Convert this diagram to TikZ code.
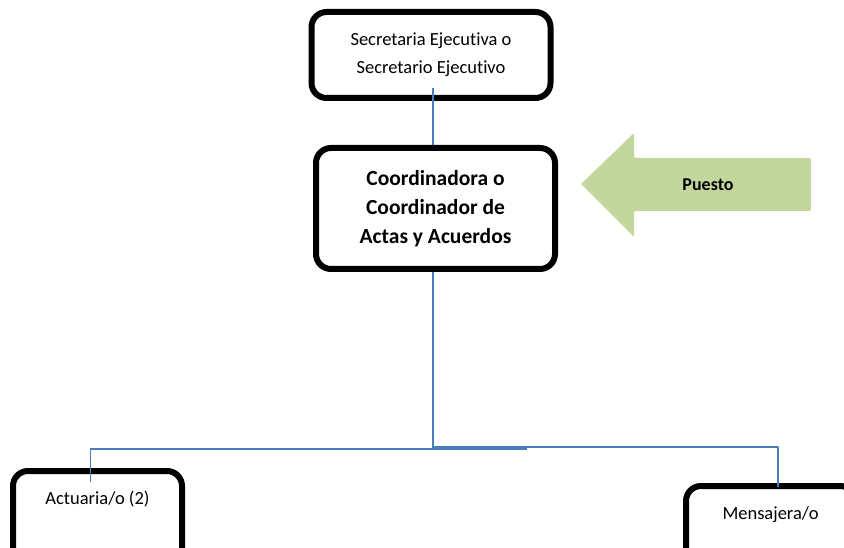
\documentclass[tikz,border=0pt]{standalone}
\usepackage{fontspec}
\setmainfont{Carlito}[Ligatures=NoCommon]
\usepackage{xcolor}
\definecolor{lineablue}{RGB}{74,126,187}
\definecolor{puestogreen}{RGB}{195,214,155}

\begin{document}
\begin{tikzpicture}
			[line cap=round,line join=round,x=1pt,y=-1pt,
			cargo/.style={draw=black,line width=6pt,rounded corners=15pt,fill=white,minimum width=239pt,align=center},
			subcargo/.style={minimum width=169pt,inner ysep=20pt,text height=13pt,text depth=70pt,font=\fontsize{18.5}{28}\selectfont},
			linea/.style={draw=lineablue,line width=1.5pt,line cap=butt}]
			\useasboundingbox (0,0) rectangle (844,548);
			\clip (0,0) rectangle (844,548);
			\node (secretaria) [cargo,minimum height=86pt,font=\fontsize{18.5}{28}\selectfont] at (431,55) {Secretaria Ejecutiva o\\Secretario Ejecutivo};
			\node (coordinador) [cargo,minimum height=121pt,font=\bfseries\fontsize{21.5}{29}\selectfont] at (435.5,208.5) {Coordinadora o\\Coordinador de\\Actas y Acuerdos};
			\node (actuaria) [cargo,subcargo,anchor=north] at (97.5,468) {Actuaria/o (2)};
			\node (mensajera) [cargo,subcargo,anchor=north] at (770.5,483) {Mensajera/o};
			\coordinate (tronco) at (433,449);
			\coordinate (ramal) at (527,449);
			\draw [linea] (tronco |- secretaria.south) ++(0,-13) -- (tronco |- coordinador.north);
			\draw [linea] (tronco |- coordinador.south) -- (tronco);
			\draw [linea] (ramal) -| ([xshift=-7pt,yshift=-14pt]actuaria.north);
			\draw [linea] (tronco) ++(0,-2) -| ([xshift=7.5pt,yshift=-4pt]mensajera.north);
			\fill [puestogreen,rounded corners=2pt] (581,184) -- (634,133) -- (634,158) -- (811,158) -- (811,211) -- (634,211) -- (634,237) -- cycle;
			\node (puesto) [font=\bfseries\fontsize{18}{22}\selectfont] at (708,185) {Puesto};
		\end{tikzpicture}
\end{document}
